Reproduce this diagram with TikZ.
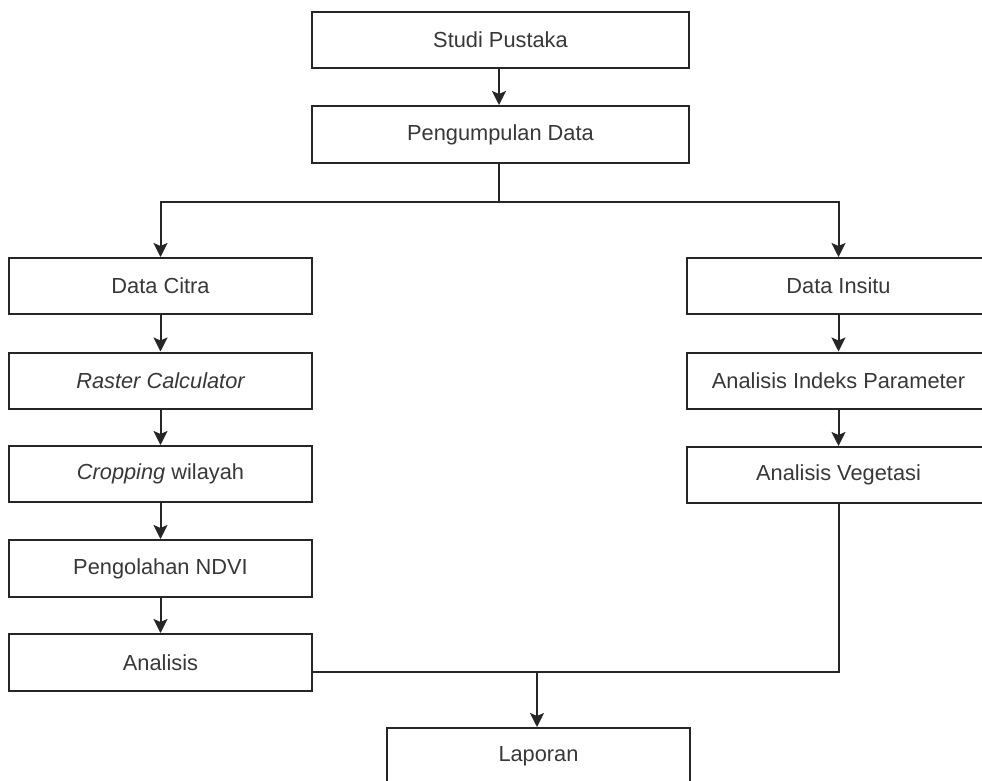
\documentclass[tikz,border=0pt]{standalone}
\usepackage{fontspec}
\setmainfont{Liberation Sans}
\usetikzlibrary{arrows.meta}
\definecolor{txt}{HTML}{383838}
\begin{document}
\begin{tikzpicture}[x=1pt,y=-1pt,
  box/.style={draw=black!85, line width=2pt, rectangle, inner sep=0pt,
    minimum height=56pt, text=txt, font=\fontsize{21.8}{25}\selectfont},
  wideb/.style={box, minimum width=377pt},
  colb/.style={box, minimum width=303pt},
  conn/.style={draw=black!85, line width=2pt},
  arr/.style={conn, -{Stealth[width=14pt,length=14pt,inset=3pt]}}]
\useasboundingbox (0,0) rectangle (982,780);
\clip (0,0) rectangle (982,780);
\fill[white] (0,0) rectangle (982,780);
% top
\node[wideb] (studi) at (500.5,40) {Studi Pustaka};
\node[wideb, minimum height=57pt] (kumpul) at (500.5,134.5) {Pengumpulan Data};
% left column
\node[colb] (citra) at (160.5,286) {Data Citra};
\node[colb] (raster) at (160.5,380.5) {\itshape Raster Calculator};
\node[colb] (crop) at (160.5,474) {\textit{Cropping} wilayah};
\node[colb, minimum height=57pt] (ndvi) at (160.5,568.5) {Pengolahan NDVI};
\node[colb, minimum height=57pt] (anal) at (160.5,662.5) {Analisis};
% right column
\node[colb] (insitu) at (838.5,286) {Data Insitu};
\node[colb] (indeks) at (838.5,380.5) {Analisis Indeks Parameter};
\node[colb] (veg) at (838.5,475) {Analisis Vegetasi};
% bottom
\node[colb, minimum height=57pt] (lapor) at (538.5,756.5) {Laporan};
% junctions
\coordinate (split) at (499,202);
\coordinate (join) at (537,672);
% connectors
\draw[arr] (studi.south -| split) -- (kumpul.north -| split);
\draw[conn] (kumpul.south -| split) -- (split);
\draw[arr] (split) -| (citra.north);
\draw[arr] (split) -| (insitu.north);
\draw[arr] (citra) -- (raster);
\draw[arr] (raster) -- (crop);
\draw[arr] (crop) -- (ndvi);
\draw[arr] (ndvi) -- (anal);
\draw[arr] (insitu) -- (indeks);
\draw[arr] (indeks) -- (veg);
\draw[conn] (veg.south) |- (join);
\draw[conn] (anal.east |- join) -- (join);
\draw[arr] (join) -- (lapor.north -| join);
\end{tikzpicture}
\end{document}
